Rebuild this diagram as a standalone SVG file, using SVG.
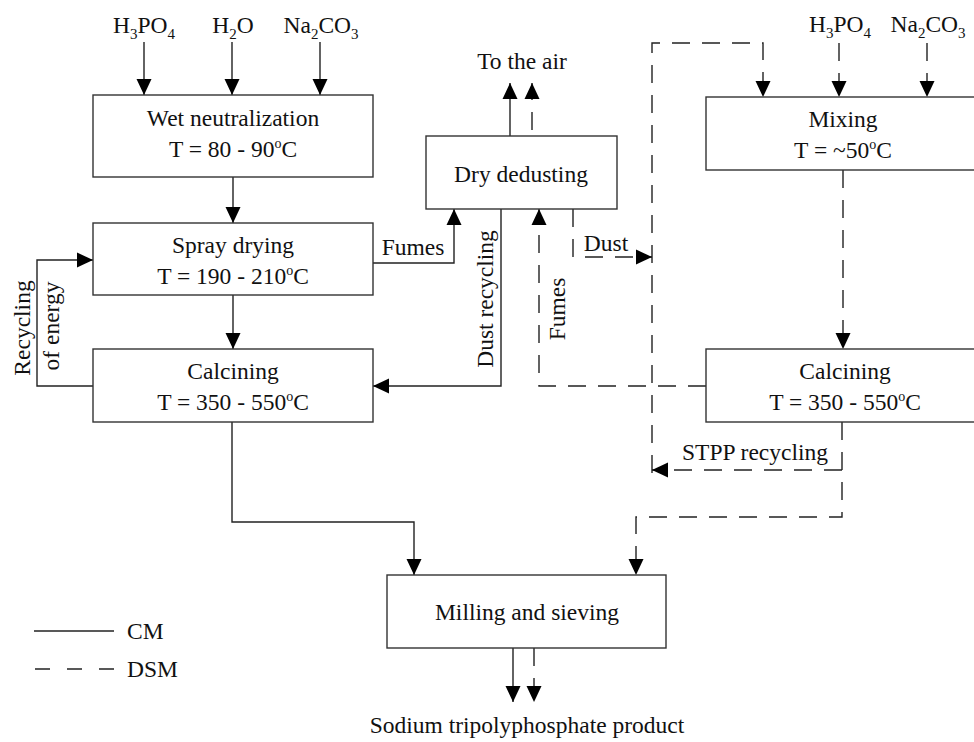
<svg xmlns="http://www.w3.org/2000/svg" width="974" height="742" viewBox="0 0 974 742">
<style>
.t{font-family:"Liberation Serif","Times New Roman",serif;font-size:23.5px;fill:#111;}
.m{text-anchor:middle;}
.box{fill:#fff;stroke:#333;stroke-width:1.4;}
.s{fill:none;stroke:#222;stroke-width:1.4;}
.d{stroke-dasharray:18 12;}
.a{marker-end:url(#ah);}
</style>
<defs>
<marker id="ah" viewBox="0 0 16 16" markerWidth="16" markerHeight="16" refX="16" refY="8" orient="auto" markerUnits="userSpaceOnUse">
<path d="M0,0.5 L16,8 L0,15.5 Z" fill="#000"/>
</marker>
</defs>
<rect width="974" height="742" fill="#fff"/>

<g id="connectors">
<!-- inputs left -->
<path class="s a" d="M144,42 V95"/>
<path class="s a" d="M232,42 V95"/>
<path class="s a" d="M320,42 V95"/>
<!-- CM flow -->
<path class="s a" d="M233,177 V223"/>
<path class="s a" d="M233,295 V349"/>
<path class="s a" d="M93,386 H37 V260 H93"/>
<path class="s a" d="M373,263 H454 V209"/>
<path class="s a" d="M501,209 V386 H373"/>
<path class="s a" d="M510,136 V83"/>
<path class="s a" d="M232,422 V522 H414 V575"/>
<path class="s a" d="M513,648 V702"/>
<!-- DSM flow -->
<path class="s d a" d="M839,43 V97"/>
<path class="s d a" d="M927,43 V97"/>
<path class="s d a" d="M652,473 V43 H763 V97"/>
<path class="s d a" d="M843,170 V349"/>
<path class="s d a" d="M706,386 H539 V209"/>
<path class="s d a" d="M573,209 V257 H652"/>
<path class="s d a" d="M842,422 V517 H636 V575"/>
<path class="s d a" d="M842,470 H652"/>
<path class="s d a" d="M532,136 V83" style="stroke-dashoffset:-6"/>
<path class="s d a" d="M534,648 V702"/>
</g>

<g id="input-labels">
<text class="t m" x="144" y="33">H<tspan dy="6" font-size="15">3</tspan><tspan dy="-6">PO</tspan><tspan dy="6" font-size="15">4</tspan></text>
<text class="t m" x="233" y="33">H<tspan dy="6" font-size="15">2</tspan><tspan dy="-6">O</tspan></text>
<text class="t m" x="321" y="33">Na<tspan dy="6" font-size="15">2</tspan><tspan dy="-6">CO</tspan><tspan dy="6" font-size="15">3</tspan></text>
<text class="t m" x="840" y="32">H<tspan dy="6" font-size="15">3</tspan><tspan dy="-6">PO</tspan><tspan dy="6" font-size="15">4</tspan></text>
<text class="t m" x="928" y="32">Na<tspan dy="6" font-size="15">2</tspan><tspan dy="-6">CO</tspan><tspan dy="6" font-size="15">3</tspan></text>
</g>

<g id="wet-neutralization">
<rect class="box" x="93" y="95" width="280" height="82"/>
<text class="t m" x="233" y="126">Wet neutralization</text>
<text class="t m" x="233" y="157">T = 80 - 90<tspan dy="-9" font-size="14">o</tspan><tspan dy="9">C</tspan></text>
</g>

<g id="spray-drying">
<rect class="box" x="93" y="223" width="280" height="72"/>
<text class="t m" x="233" y="253">Spray drying</text>
<text class="t m" x="233" y="284">T = 190 - 210<tspan dy="-9" font-size="14">o</tspan><tspan dy="9">C</tspan></text>
</g>

<g id="calcining-cm">
<rect class="box" x="93" y="349" width="280" height="73"/>
<text class="t m" x="233" y="379">Calcining</text>
<text class="t m" x="233" y="410">T = 350 - 550<tspan dy="-9" font-size="14">o</tspan><tspan dy="9">C</tspan></text>
</g>

<g id="dry-dedusting">
<rect class="box" x="426" y="136" width="191" height="73"/>
<text class="t m" x="521" y="182">Dry dedusting</text>
</g>

<g id="mixing">
<rect class="box" x="706" y="97" width="290" height="73"/>
<text class="t m" x="843" y="127">Mixing</text>
<text class="t m" x="843" y="158">T = ~50<tspan dy="-9" font-size="14">o</tspan><tspan dy="9">C</tspan></text>
</g>

<g id="calcining-dsm">
<rect class="box" x="706" y="349" width="290" height="73"/>
<text class="t m" x="845" y="379">Calcining</text>
<text class="t m" x="845" y="410">T = 350 - 550<tspan dy="-9" font-size="14">o</tspan><tspan dy="9">C</tspan></text>
</g>

<g id="milling">
<rect class="box" x="387" y="575" width="279" height="73"/>
<text class="t m" x="527" y="620">Milling and sieving</text>
</g>

<g id="labels">
<text class="t m" x="522" y="69">To the air</text>
<text class="t m" x="413" y="255">Fumes</text>
<text class="t m" x="606" y="251">Dust</text>
<text class="t m" x="755" y="460">STPP recycling</text>
<text class="t m" transform="translate(493,299) rotate(-90)">Dust recycling</text>
<text class="t m" transform="translate(565,309) rotate(-90)">Fumes</text>
<text class="t m" transform="translate(30,328) rotate(-90)">Recycling</text>
<text class="t m" transform="translate(59,326) rotate(-90)">of energy</text>
<text class="t m" x="527" y="733">Sodium tripolyphosphate product</text>
</g>

<g id="legend">
<path class="s" d="M34,631 H114"/>
<text class="t" x="127" y="639">CM</text>
<path class="s" d="M35,669 H114" style="stroke-dasharray:15 17"/>
<text class="t" x="127" y="677">DSM</text>
</g>
</svg>
